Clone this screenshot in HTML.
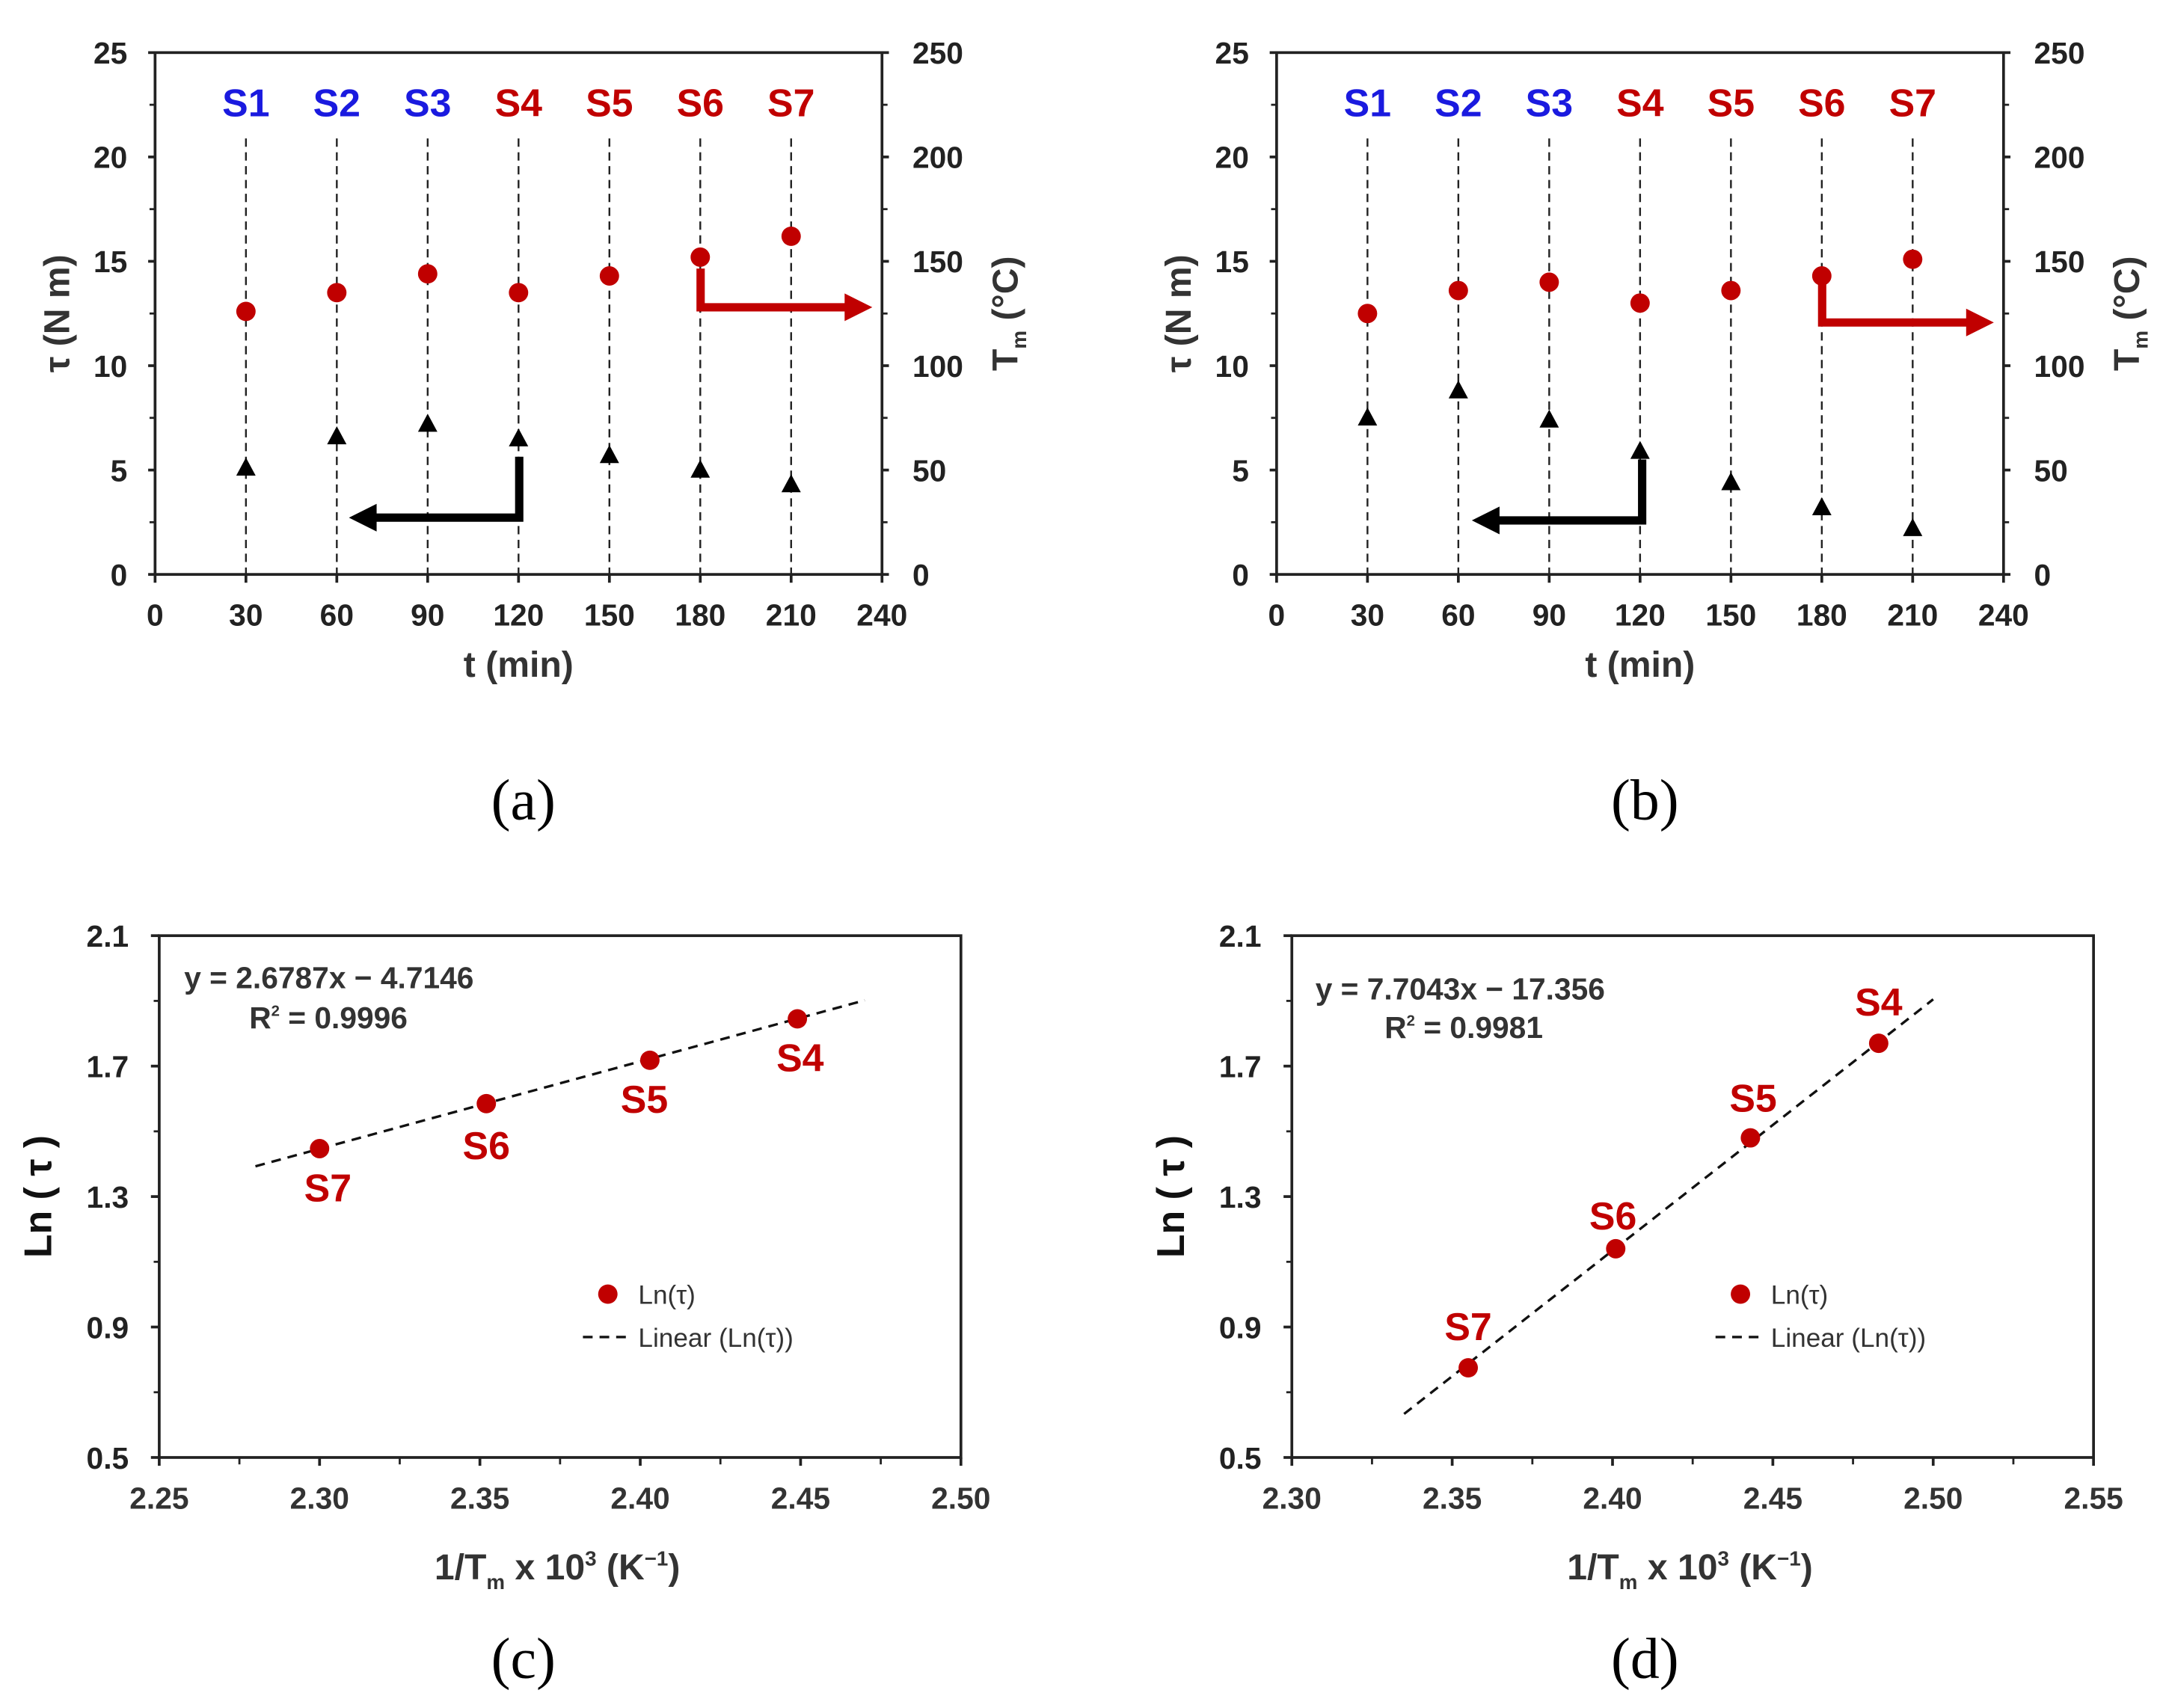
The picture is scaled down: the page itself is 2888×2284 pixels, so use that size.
<!DOCTYPE html>
<html><head><meta charset="utf-8">
<style>
html,body{margin:0;padding:0;background:#fff;}
svg{display:block;}
text{font-family:"Liberation Sans",sans-serif;}
text.serif{font-family:"Liberation Serif",serif;}
</style></head>
<body>
<svg id="fig" width="2888" height="2284" viewBox="0 0 1560 1234" preserveAspectRatio="none" xmlns="http://www.w3.org/2000/svg"></svg>
<script>
// ---- data ----
const sampleLabels = ["S1","S2","S3","S4","S5","S6","S7"];
const sampleTimes = [30,60,90,120,150,180,210];
const tmA = [126,135,144,135,143,152,162];
const tauA = [5.0,6.5,7.1,6.4,5.6,4.9,4.2];
const tmB = [125,136,140,130,136,143,151];
const tauB = [7.4,8.7,7.3,5.8,4.3,3.1,2.1];
const timeTicks = [0,30,60,90,120,150,180,210,240];
const tauTicks = [0,5,10,15,20,25];
const tmTicks = [0,50,100,150,200,250];
const lnLabels = ["S7","S6","S5","S4"];
const invTC = [2.300,2.352,2.403,2.449];
const lnTauC = [1.447,1.585,1.718,1.845];
const invTD = [2.355,2.401,2.443,2.483];
const lnTauD = [0.775,1.140,1.480,1.770];
const lnTicks = [0.5,0.9,1.3,1.7,2.1];
const xTicksC = [2.25,2.30,2.35,2.40,2.45,2.50];
const xTicksD = [2.30,2.35,2.40,2.45,2.50,2.55];
const fitC = [2.6787,-4.7146];
const fitD = [7.7043,-17.356];

const NS="http://www.w3.org/2000/svg";
const svg=document.getElementById('fig');
function el(tag,attrs,parent,txt){const e=document.createElementNS(NS,tag);for(const k in attrs)e.setAttribute(k,attrs[k]);if(txt!==undefined)e.textContent=txt;(parent||svg).appendChild(e);return e;}
function lin(d0,d1,r0,r1){return v=>r0+(v-d0)/(d1-d0)*(r1-r0);}

function timePanel(ox,tm,tau,arrows,name){
  const g=el('g',{});
  
  
  const L=112+ox,R=637+ox,T=38,B=415;
  const x=lin(0,240,L,R), y=lin(0,25,B,T), y2=lin(0,250,B,T);
  el('rect',{x:L,y:T,width:R-L,height:B-T,fill:'none',stroke:'#222','stroke-width':2},g);
  tauTicks.forEach(v=>{const t=el('text',{x:L-20,y:y(v)+8,'text-anchor':'end','font-size':22,'font-weight':'bold',fill:'#222'},g,v);
    
    el('line',{x1:L-5,x2:L,y1:y(v),y2:y(v),stroke:'#222','stroke-width':2},g);
    if(v<25) el('line',{x1:L-4,x2:L,y1:y(v+2.5),y2:y(v+2.5),stroke:'#222','stroke-width':1.5},g);});
  tmTicks.forEach(v=>{const t=el('text',{x:R+22,y:y2(v)+8,'font-size':22,'font-weight':'bold',fill:'#222'},g,v);
    
    el('line',{x1:R,x2:R+5,y1:y2(v),y2:y2(v),stroke:'#222','stroke-width':2},g);
    if(v<250) el('line',{x1:R,x2:R+4,y1:y2(v+25),y2:y2(v+25),stroke:'#222','stroke-width':1.5},g);});
  timeTicks.forEach(v=>{const t=el('text',{x:x(v),y:B+37,'text-anchor':'middle','font-size':22,'font-weight':'bold',fill:'#222'},g,v);
    
    el('line',{x1:x(v),x2:x(v),y1:B,y2:B+6,stroke:'#222','stroke-width':2},g);});
  const xt=el('text',{x:(L+R)/2,y:B+74,'text-anchor':'middle','font-size':26,'font-weight':'bold',fill:'#333'},g,'t (min)');
  
  const yt=el('text',{transform:`translate(${L-62},${(T+B)/2}) rotate(-90)`,'text-anchor':'middle','font-size':26,'font-weight':'bold',fill:'#333'},g,'τ (N m)');
  
  const y2t=el('text',{transform:`translate(${R+98},${(T+B)/2}) rotate(-90)`,'text-anchor':'middle','font-size':26,'font-weight':'bold',fill:'#333'},g);
  
  el('tspan',{},y2t,'T');el('tspan',{'font-size':15,dy:6},y2t,'m');el('tspan',{dy:-6},y2t,' (°C)');
  sampleTimes.forEach((t,i)=>{
    el('line',{x1:x(t),x2:x(t),y1:100,y2:B,stroke:'#222','stroke-width':1.3,'stroke-dasharray':'6,4'},g);
    const s=el('text',{x:x(t),y:84,'text-anchor':'middle','font-size':28,'font-weight':'bold',fill:i<3?'#1a1adf':'#c00000'},g,sampleLabels[i]);
    
    const c=el('circle',{cx:x(t),cy:y2(tm[i]),r:7,fill:'#c00000'},g);
    
    const cx=x(t),cy=y(tau[i]);
    const p=el('polygon',{points:`${cx},${cy-9} ${cx-7},${cy+4} ${cx+7},${cy+4}`,fill:'#000'},g);
    
  });
  const a=arrows;
  const ba=el('path',{d:`M${a.bx},${a.bt} L${a.bx},${a.by} L${a.btip+14},${a.by}`,fill:'none',stroke:'#000','stroke-width':6},g);
  
  el('polygon',{points:`${a.btip},${a.by} ${a.btip+20},${a.by-10} ${a.btip+20},${a.by+10}`,fill:'#000'},g);
  const ra=el('path',{d:`M${a.rx},${a.rt} L${a.rx},${a.ry} L${a.rtip-14},${a.ry}`,fill:'none',stroke:'#c00000','stroke-width':6},g);
  
  el('polygon',{points:`${a.rtip},${a.ry} ${a.rtip-20},${a.ry-10} ${a.rtip-20},${a.ry+10}`,fill:'#c00000'},g);
}

function lnPanel(ox,xs,ys,fit,ticksX,eq,r2,lineRange,labelOff,name){
  const g=el('g',{});
  
  
  const L=115+ox,R=694+ox,T=676,B=1053;
  const x=lin(ticksX[0],ticksX[ticksX.length-1],L,R), y=lin(0.5,2.1,B,T);
  el('rect',{x:L,y:T,width:R-L,height:B-T,fill:'none',stroke:'#222','stroke-width':2},g);
  lnTicks.forEach(v=>{const t=el('text',{x:L-22,y:y(v)+8,'text-anchor':'end','font-size':22,'font-weight':'bold',fill:'#222'},g,v.toFixed(1));
    
    el('line',{x1:L-6,x2:L,y1:y(v),y2:y(v),stroke:'#222','stroke-width':2},g);
    if(v<2.0) el('line',{x1:L-4,x2:L,y1:y(v+0.2),y2:y(v+0.2),stroke:'#222','stroke-width':1.5},g);});
  ticksX.forEach((v,i)=>{const t=el('text',{x:x(v),y:B+37,'text-anchor':'middle','font-size':22,'font-weight':'bold',fill:'#333'},g,v.toFixed(2));
    
    el('line',{x1:x(v),x2:x(v),y1:B,y2:B+6,stroke:'#222','stroke-width':2},g);
    if(i<ticksX.length-1) el('line',{x1:x(v+0.025),x2:x(v+0.025),y1:B,y2:B+5,stroke:'#222','stroke-width':1.5},g);});
  const xt=el('text',{x:(L+R)/2-2,y:B+88,'text-anchor':'middle','font-size':26,'font-weight':'bold',fill:'#333'},g);
  
  el('tspan',{},xt,'1/T');el('tspan',{'font-size':15,dy:7},xt,'m');el('tspan',{dy:-7},xt,' x 10');el('tspan',{'font-size':15,dy:-10},xt,'3');el('tspan',{dy:10},xt,' (K');el('tspan',{'font-size':15,dy:-10},xt,'−1');el('tspan',{dy:10},xt,')');
  const yt=el('text',{transform:`translate(${L-78},${(T+B)/2}) rotate(-90)`,'text-anchor':'middle','font-size':28,'font-weight':'bold',fill:'#111'},g,'Ln ( τ )');
  
  const f=v=>fit[0]*v+fit[1];
  const tl=el('line',{x1:x(lineRange[0]),y1:y(f(lineRange[0])),x2:x(lineRange[1]),y2:y(f(lineRange[1])),stroke:'#111','stroke-width':1.8,'stroke-dasharray':'7,5'},g);
  
  xs.forEach((v,i)=>{
    const c=el('circle',{cx:x(v),cy:y(ys[i]),r:7,fill:'#c00000'},g);
    
    const o=labelOff[i];
    const t=el('text',{x:x(v)+o[0],y:y(ys[i])+o[1],'text-anchor':'middle','font-size':28,'font-weight':'bold',fill:'#c00000'},g,lnLabels[i]);
    
  });
  const e1=el('text',{x:eq[0],y:eq[1],'font-size':22,'font-weight':'bold',fill:'#333'},g,eq[2]);
  
  const e2=el('text',{x:r2[0],y:r2[1],'font-size':22,'font-weight':'bold',fill:'#333'},g);
  
  el('tspan',{},e2,'R');el('tspan',{'font-size':11,dy:-9},e2,'2');el('tspan',{dy:9},e2,' = '+r2[2]);
  const lx=L+324;
  const l1=el('circle',{cx:lx,cy:935,r:7,fill:'#c00000'},g);
  
  el('text',{x:lx+22,y:942,'font-size':19,fill:'#333'},g,'Ln(τ)');
  el('line',{x1:lx-18,x2:lx+18,y1:966,y2:966,stroke:'#111','stroke-width':1.8,'stroke-dasharray':'7,5'},g);
  const l2=el('text',{x:lx+22,y:973,'font-size':19,fill:'#333'},g,'Linear (Ln(τ))');
  
}

timePanel(0,tmA,tauA,{bx:375,bt:330,by:374,btip:252,rx:506,rt:194,ry:222,rtip:630},'panel-a');
timePanel(810,tmB,tauB,{bx:1186,bt:332,by:376,btip:1063,rx:1316,rt:196,ry:233,rtip:1440},'panel-b');
lnPanel(0,invTC,lnTauC,fitC,xTicksC,[133,714,'y = 2.6787x − 4.7146'],[180,743,'0.9996'],[2.28,2.47],[[6,38],[0,40],[-4,38],[2,38]],'panel-c');
lnPanel(818,invTD,lnTauD,fitD,xTicksD,[950,722,'y = 7.7043x − 17.356'],[1000,750,'0.9981'],[2.335,2.50],[[0,-20],[-2,-14],[2,-19],[0,-20]],'panel-d');

[['(a)',378,592],['(b)',1188,592],['(c)',378,1212],['(d)',1188,1212]].forEach(p=>{
  const t=el('text',{x:p[1],y:p[2],'text-anchor':'middle','font-size':42,fill:'#000',class:'serif',style:'font-family:"Liberation Serif",serif'},svg,p[0]);
  
  
});
</script>
</body></html>
